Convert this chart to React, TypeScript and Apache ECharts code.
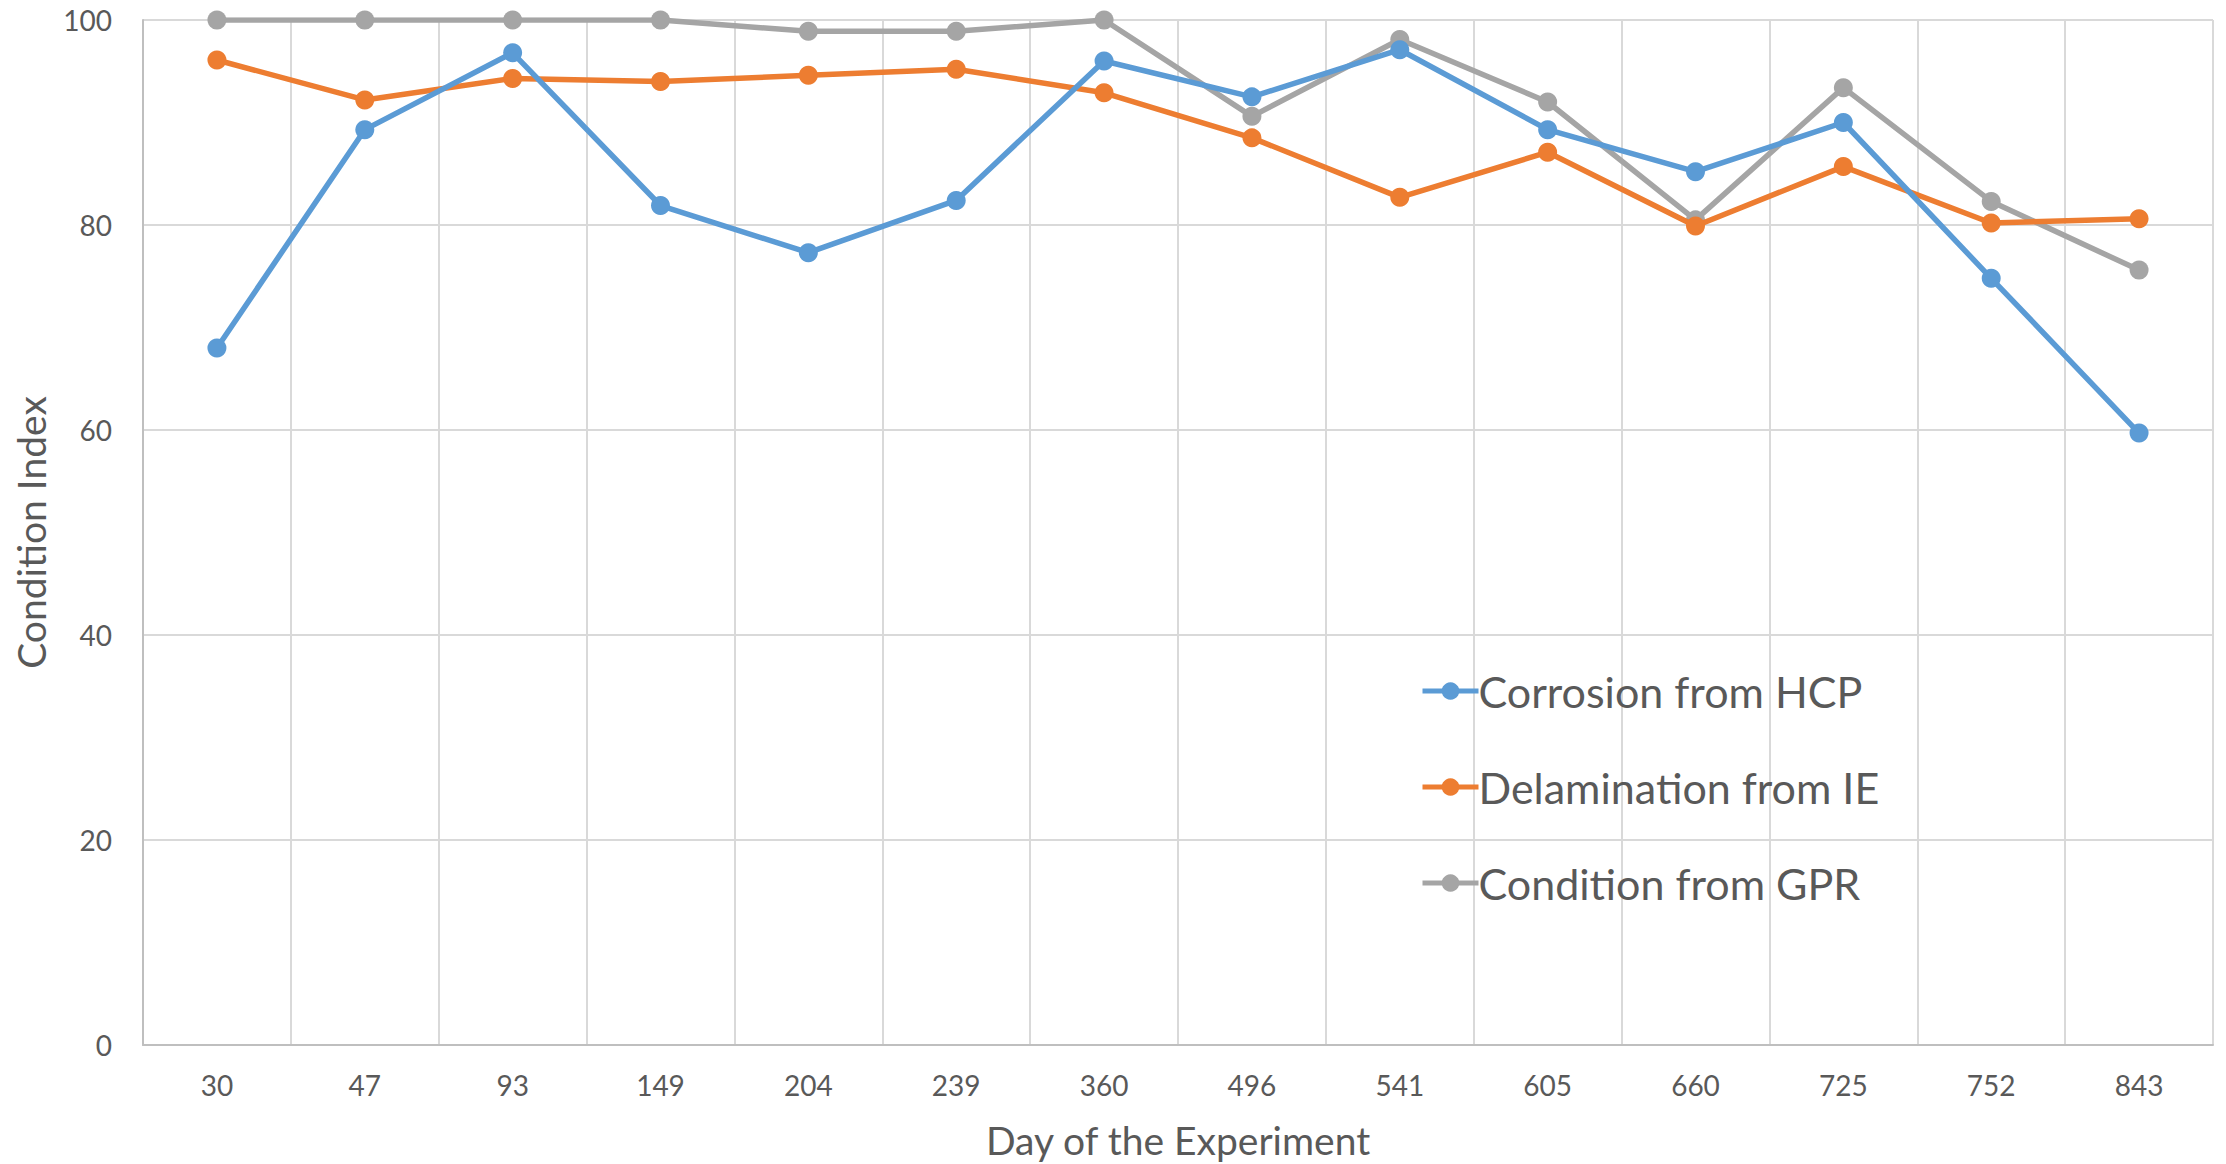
import React, { useEffect, useRef } from "react";
import * as echarts from "echarts";

const days = ["30", "47", "93", "149", "204", "239", "360", "496", "541", "605", "660", "725", "752", "843"];
const corrosionHCP = [68.0, 89.3, 96.8, 81.9, 77.3, 82.4, 96.0, 92.5, 97.1, 89.3, 85.2, 90.0, 74.8, 59.7];
const delaminationIE = [96.1, 92.2, 94.3, 94.0, 94.6, 95.2, 92.9, 88.5, 82.7, 87.1, 79.9, 85.7, 80.2, 80.6];
const conditionGPR = [100, 100, 100, 100, 98.9, 98.9, 100, 90.6, 98.1, 92.0, 80.5, 93.4, 82.3, 75.6];
const seriesNames = ["Corrosion from HCP", "Delamination from IE", "Condition from GPR"];
const colors = ["#5B9BD5", "#ED7D31", "#A5A5A5"];

const FONT = "Lato, 'Open Sans', sans-serif";

export default function App() {
  const ref = useRef<HTMLDivElement>(null);
  useEffect(() => {
    document.body.style.margin = "0";
    document.body.style.overflow = "hidden";
    if (!ref.current) return;
    const chart = echarts.init(ref.current, null, { renderer: "svg", width: 2226, height: 1164 });
    const data = [corrosionHCP, delaminationIE, conditionGPR];
    chart.setOption({
      animation: false,
      backgroundColor: "#ffffff",
      textStyle: { fontFamily: FONT },
      grid: { left: 143, right: 13, top: 20, bottom: 112, containLabel: false },
      legend: {
        orient: "vertical",
        left: 1415,
        top: 662,
        itemWidth: 56,
        itemHeight: 22,
        itemGap: 48,
        data: seriesNames,
        lineStyle: { width: 5 },
        textStyle: { fontSize: 43, color: "#595959", fontFamily: FONT, lineHeight: 48, padding: [0, 0, 0, -5] },
      },
      xAxis: {
        type: "category",
        data: days,
        boundaryGap: true,
        name: "Day of the Experiment",
        nameLocation: "middle",
        nameGap: 75,
        nameTextStyle: { fontSize: 39, color: "#595959", fontFamily: FONT },
        axisLine: { show: true, lineStyle: { color: "#BFBFBF", width: 2 } },
        axisTick: { show: false },
        axisLabel: { fontSize: 28, color: "#595959", margin: 26, fontFamily: FONT },
        splitLine: { show: true, lineStyle: { color: "#D9D9D9", width: 2 } },
      },
      yAxis: {
        type: "value",
        min: 0,
        max: 100,
        interval: 20,
        name: "Condition Index",
        nameLocation: "middle",
        nameGap: 93,
        nameRotate: 90,
        nameTextStyle: { fontSize: 39, color: "#595959", fontFamily: FONT },
        axisLine: { show: true, lineStyle: { color: "#BFBFBF", width: 2 } },
        axisTick: { show: false },
        axisLabel: { fontSize: 28, color: "#595959", margin: 31, fontFamily: FONT },
        splitLine: { show: true, lineStyle: { color: "#D9D9D9", width: 2 } },
      },
      series: data.map((d, i) => ({
        name: seriesNames[i],
        type: "line",
        data: d,
        symbol: "circle",
        symbolSize: 19,
        itemStyle: { color: colors[i] },
        lineStyle: { color: colors[i], width: 5.5 },
        z: 2 + (2 - i),
      })),
    });
    return () => chart.dispose();
  }, []);
  return <div ref={ref} style={{ width: 2226, height: 1164 }} />;
}
